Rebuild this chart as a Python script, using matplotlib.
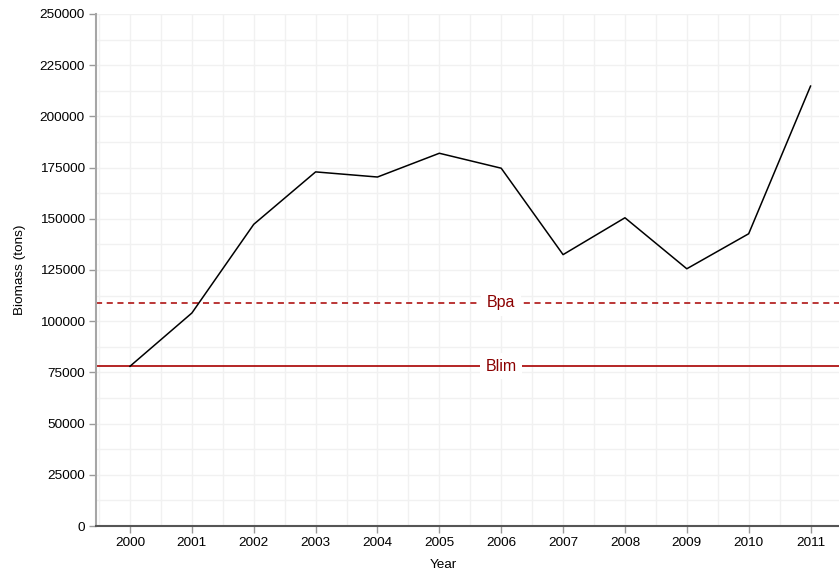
import numpy as np
import matplotlib.pyplot as plt
from matplotlib.ticker import MultipleLocator

# Biomass series
years = [2000, 2001, 2002, 2003, 2004, 2005, 2006, 2007, 2008, 2009, 2010, 2011]
biomass = [78000, 104000, 147300, 172900, 170400, 182000, 174700, 132500,
           150500, 125600, 142700, 214800]
blim = 78000
bpa = 109000
label_year = 2006

plt.rcParams['font.family'] = ['Liberation Sans', 'DejaVu Sans']

fig = plt.figure(figsize=(8.39, 5.71), dpi=100)
ax = fig.add_axes([0.1144, 0.0788, 0.8856, 0.8967])

ax.set_xlim(1999.45, 2011.46)
ax.set_ylim(0, 250000)

# grid: majors and half steps
ax.xaxis.set_major_locator(MultipleLocator(1))
ax.xaxis.set_minor_locator(MultipleLocator(0.5))
ax.yaxis.set_major_locator(MultipleLocator(25000))
ax.yaxis.set_minor_locator(MultipleLocator(12500))
ax.grid(True, which='both', color='#f1f1f1', linewidth=1.0, zorder=0)
ax.set_axisbelow(True)
ax.tick_params(which='minor', length=0)
ax.tick_params(which='major', length=5, width=1, color='#9a9a9a',
               labelsize=9.7, labelcolor='black', pad=3)

for side in ['top', 'right']:
    ax.spines[side].set_visible(False)
ax.spines['left'].set_color('#a6a6a6')
ax.spines['left'].set_linewidth(1.5)
ax.spines['bottom'].set_color('#555555')
ax.spines['bottom'].set_linewidth(1.5)

ax.plot(years, biomass, color='black', linewidth=1.1, zorder=3)

ax.axhline(bpa, color='#a80000', linewidth=1.1, linestyle=(0, (4, 3)), zorder=2)
ax.axhline(blim, color='#a80000', linewidth=1.2, zorder=2)
for val, name in [(bpa, 'Bpa'), (blim, 'Blim')]:
    ax.text(label_year, val, name, color='#8b0000', fontsize=11.5,
            ha='center', va='center', zorder=4,
            bbox=dict(facecolor='white', edgecolor='none', pad=4))

ax.set_xlabel('Year', fontsize=9.7)
ax.xaxis.set_label_coords(0.467, -0.065)
ax.set_ylabel('Biomass (tons)', fontsize=9.7, labelpad=10)

fig.savefig('out.png', dpi=100)
